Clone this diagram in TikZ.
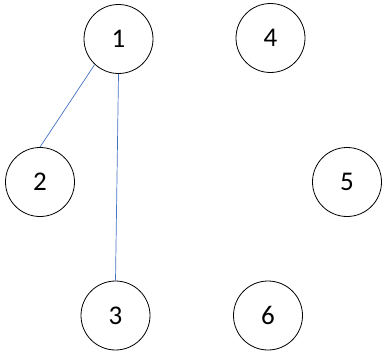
\documentclass[tikz,border=0pt]{standalone}
\usepackage{fontspec}
\setmainfont{Carlito}
\definecolor{edgeblue}{RGB}{68,114,196}
\begin{document}
\begin{tikzpicture}[x=1pt,y=-1pt,
    vertex/.style={draw, circle, line width=0.8pt, minimum size=69pt, inner sep=0pt,
        font=\fontsize{27}{27}\selectfont},
    edge/.style={draw=edgeblue, line width=0.7pt}]
    \useasboundingbox (0,0) rectangle (386,356);

    % Vertices
    \node[vertex] (n1) at (118.5, 39) {1};
    \node[vertex] (n4) at (270.5, 38) {4};
    \node[vertex] (n2) at (40, 182) {2};
    \node[vertex] (n5) at (347, 182) {5};
    \node[vertex] (n3) at (115.5, 315.5) {3};
    \node[vertex] (n6) at (268, 315.5) {6};

    % Edges
    \draw[edge] (n1.227) -- (n2.north);
    \draw[edge] (n1.south) -- (n3.north);
\end{tikzpicture}
\end{document}
